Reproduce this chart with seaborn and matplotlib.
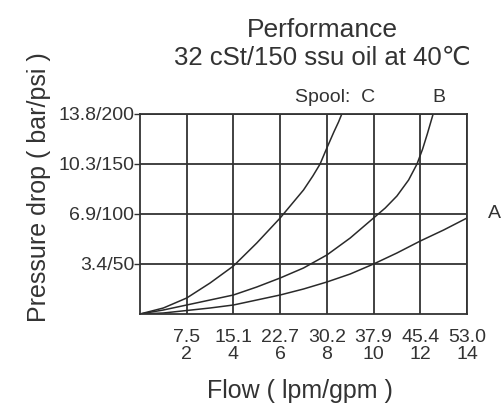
import matplotlib
matplotlib.use("Agg")
import matplotlib.pyplot as plt
import seaborn as sns
import pandas as pd

# Data (flow in gpm, pressure drop in psi)
flow_a = [0, 1, 2, 3, 4, 5, 6, 7, 8, 9, 10, 11, 12, 13, 14]
psi_a = [0, 1, 3.5, 6, 9, 14, 19, 25, 32, 40, 50, 61, 73, 84, 96]
flow_b = [0, 1, 2, 3, 4, 5, 6, 7, 8, 9, 10, 10.5, 11, 11.5, 11.86, 12.1, 12.3, 12.45, 12.55]
psi_b = [0, 4, 9, 14, 19, 27, 36, 46, 59, 76, 96, 106, 118, 134, 150, 165, 180, 192, 200]
flow_c = [0, 1, 2, 3, 4, 5, 6, 6.5, 7, 7.4, 7.71, 8, 8.3, 8.5, 8.64]
psi_c = [0, 6, 16, 31, 48, 71, 96, 110, 124, 138, 150, 166, 182, 192, 200]

x_ticks = [2, 4, 6, 8, 10, 12, 14]
x_labels = ["7.5\n2", "15.1\n4", "22.7\n6", "30.2\n8", "37.9\n10", "45.4\n12", "53.0\n14"]
y_ticks = [50, 100, 150, 200]
y_labels = ["3.4/50", "6.9/100", "10.3/150", "13.8/200"]

sns.set_style("white")
plt.rcParams['font.family'] = ['Liberation Sans', 'DejaVu Sans']
txt = "#333333"

W, H = 501, 403
fig = plt.figure(figsize=(W / 100, H / 100), dpi=100)
ax = fig.add_axes([140 / W, (H - 314) / H, 327 / W, 200 / H])

for fx, py in [(flow_a, psi_a), (flow_b, psi_b), (flow_c, psi_c)]:
    df = pd.DataFrame({"flow": fx, "psi": py})
    sns.lineplot(data=df, x="flow", y="psi", ax=ax, color="#2a2a2a", lw=1.1,
                 estimator=None, sort=False)

ax.set_xlim(0, 14)
ax.set_ylim(0, 200)
ax.set_xticks(x_ticks)
ax.set_xticklabels(x_labels, fontsize=14, color=txt, linespacing=1.0)
ax.set_yticks(y_ticks)
ax.set_yticklabels(y_labels, fontsize=14, color=txt)
ax.tick_params(axis='x', length=0, pad=11)
ax.tick_params(axis='y', length=4, width=1.0, color="#333333", pad=0, left=True)
ax.grid(True, color="#333333", lw=1.3)
for s in ax.spines.values():
    s.set_color("#333333")
    s.set_linewidth(1.3)
    s.set_visible(True)

ax.set_xlabel("Flow ( lpm/gpm )", fontsize=18, color=txt, va="baseline")
ax.xaxis.set_label_coords((300 - 140) / 327, (314 - 398) / 200)
ax.set_ylabel("Pressure drop ( bar/psi )", fontsize=18, color=txt, va="center")
ax.yaxis.set_label_coords((39 - 140) / 327, (314 - 187) / 200)

fig.text(322 / W, 1 - 37 / H, "Performance", ha="center", va="baseline", fontsize=19, color=txt)
fig.text(322 / W, 1 - 65 / H, "32 cSt/150 ssu oil at 40\u2103", ha="center", va="baseline",
         fontsize=18.5, color=txt)

ax.annotate("Spool:  C", xy=(375 / W, 1 - 97 / H), xycoords="figure fraction",
            ha="right", va="center", fontsize=14, color=txt)
ax.annotate("B", xy=(439 / W, 1 - 97 / H), xycoords="figure fraction",
            ha="center", va="center", fontsize=14, color=txt)
ax.annotate("A", xy=(494 / W, 1 - 213 / H), xycoords="figure fraction",
            ha="center", va="center", fontsize=14, color=txt)

fig.savefig("out.png", dpi=100)
